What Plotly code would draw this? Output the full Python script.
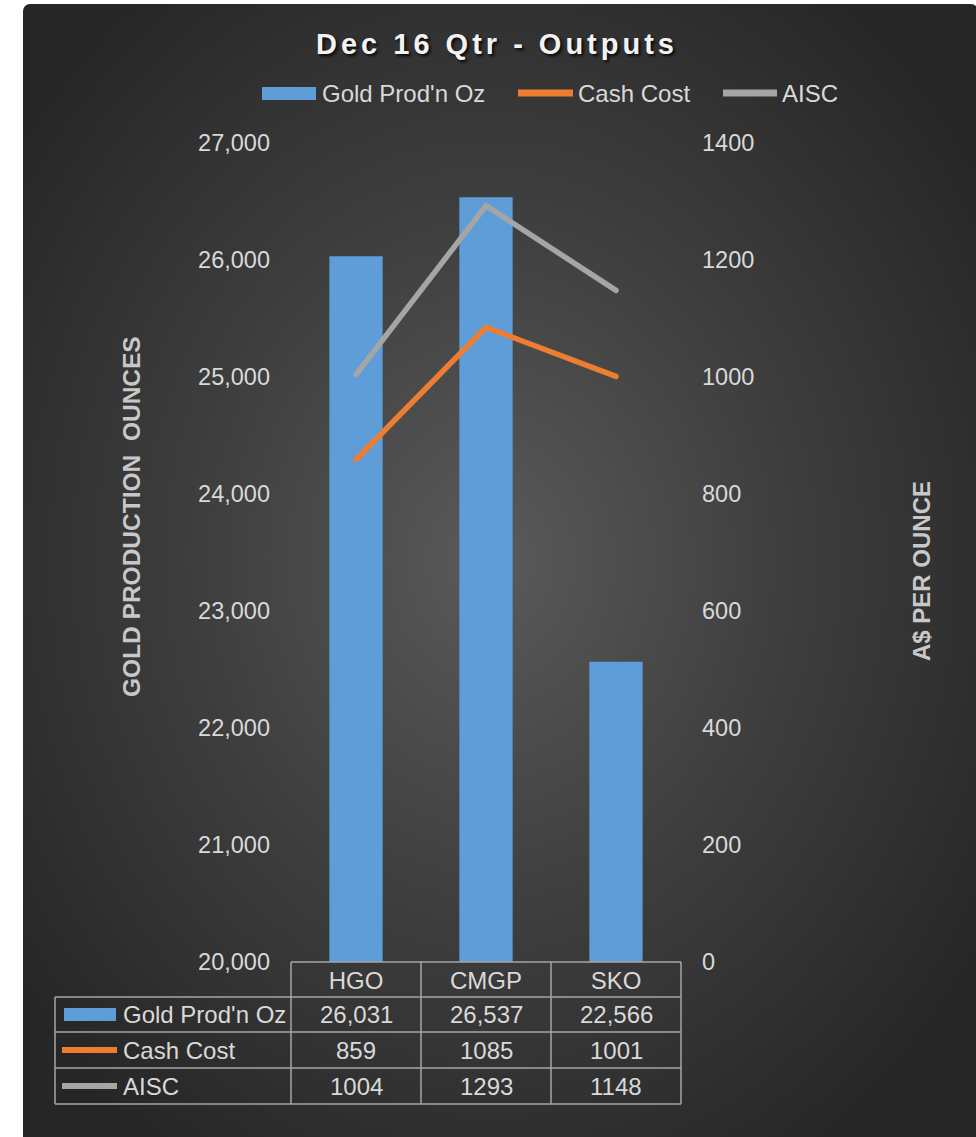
import base64
import plotly.graph_objects as go

# ---------------- data ----------------
categories = ["HGO", "CMGP", "SKO"]
gold_oz = [26031, 26537, 22566]
cash_cost = [859, 1085, 1001]
aisc = [1004, 1293, 1148]
left_ticks = [20000, 21000, 22000, 23000, 24000, 25000, 26000, 27000]
right_ticks = [0, 200, 400, 600, 800, 1000, 1200, 1400]
series_names = ["Gold Prod'n Oz", "Cash Cost", "AISC"]
title_text = "Dec 16 Qtr - Outputs"
left_title = "GOLD PRODUCTION  OUNCES"
right_title = "A$ PER OUNCE"

# ---------------- styling ----------------
W, H = 976, 1137
L, R, T, B = 291, 681, 143, 962  # plot area in pixels
BLUE = "#5e9dd7"
ORANGE = "#ed7d31"
GRAY = "#a5a5a5"
TXT = "#d9d9d9"
GRID = "#a6a6a6"
FONT = "Liberation Sans, Arial, sans-serif"
PANEL = (23, 4, 978, 1150)  # x0, y0, x1, y1 of dark panel


def fx(px):
    return (px - L) / (R - L)


def fy(py):
    return (B - py) / (B - T)


fig = go.Figure()
fig.add_trace(go.Bar(x=categories, y=gold_oz, name=series_names[0],
                     marker=dict(color=BLUE, line=dict(width=0)), yaxis="y",
                     showlegend=False))
fig.add_trace(go.Scatter(x=categories, y=cash_cost, name=series_names[1], mode="lines",
                         line=dict(color=ORANGE, width=5.5), yaxis="y2", showlegend=False))
fig.add_trace(go.Scatter(x=categories, y=aisc, name=series_names[2], mode="lines",
                         line=dict(color=GRAY, width=5.5), yaxis="y2", showlegend=False))

# background (radial gradient panel)
pw, ph = PANEL[2] - PANEL[0], PANEL[3] - PANEL[1]
svg = (
    f'<svg xmlns="http://www.w3.org/2000/svg" width="{pw}" height="{ph}" viewBox="0 0 {pw} {ph}" '
    'preserveAspectRatio="none"><defs><radialGradient id="g" cx="0.49" cy="0.485" r="0.62">'
    '<stop offset="0" stop-color="#5a5a5a"/><stop offset="0.5" stop-color="#3e3e3e"/>'
    '<stop offset="1" stop-color="#262626"/></radialGradient></defs>'
    f'<rect width="{pw}" height="{ph}" rx="7" fill="url(#g)"/></svg>'
)
src = "data:image/svg+xml;base64," + base64.b64encode(svg.encode()).decode()

shapes = []
annotations = []


def hline(x0, x1, y, color=GRID, width=1.5):
    shapes.append(dict(type="line", xref="paper", yref="paper", x0=fx(x0), x1=fx(x1),
                       y0=fy(y), y1=fy(y), line=dict(color=color, width=width)))


def vline(x, y0, y1, color=GRID, width=1.5):
    shapes.append(dict(type="line", xref="paper", yref="paper", x0=fx(x), x1=fx(x),
                       y0=fy(y0), y1=fy(y1), line=dict(color=color, width=width)))


def text(px, py, s, size=24, color=TXT, xanchor="center", bold=False, angle=0, shadow=None):
    f = dict(family=FONT, size=size, color=color)
    if bold:
        f["weight"] = "bold"
    if shadow:
        f["shadow"] = shadow
    annotations.append(dict(xref="paper", yref="paper", x=fx(px), y=fy(py), text=s,
                            showarrow=False, xanchor=xanchor, yanchor="middle",
                            font=f, textangle=angle))


# ---------- table ----------
col_edges = [291, 421, 551, 681]
row_edges = [997, 1032, 1068, 1104]
hline(291, 681, 962)
for y in row_edges:
    hline(55, 681, y)
for x in col_edges:
    vline(x, 962, 1104)
vline(55, 997, 1104)

row_centers = [1014.5, 1050, 1086]
col_centers = [(col_edges[i] + col_edges[i + 1]) / 2 for i in range(3)]

table_rows = [
    [f"{v:,}" for v in gold_oz],
    [f"{v}" for v in cash_cost],
    [f"{v}" for v in aisc],
]
for r, vals in enumerate(table_rows):
    for c, s in enumerate(vals):
        text(col_centers[c], row_centers[r], s)
    text(121, row_centers[r], series_names[r], xanchor="left")

# table legend keys
shapes.append(dict(type="rect", xref="paper", yref="paper", x0=fx(64), x1=fx(116),
                   y0=fy(1021), y1=fy(1008), fillcolor=BLUE, line=dict(width=0)))
hline(62, 117, 1050, ORANGE, 6)
hline(62, 117, 1086, GRAY, 6)

# ---------- top legend ----------
shapes.append(dict(type="rect", xref="paper", yref="paper", x0=fx(262), x1=fx(316),
                   y0=fy(100), y1=fy(87), fillcolor=BLUE, line=dict(width=0)))
hline(518, 573, 93, ORANGE, 7)
hline(723, 777, 93, GRAY, 7)
text(320, 93, series_names[0], xanchor="left")
text(576, 93, series_names[1], xanchor="left")
text(780, 93, series_names[2], xanchor="left")

# ---------- titles ----------
text(497, 44, title_text, size=29, color="#f2f2f2", bold=True,
     shadow="2px 2px 3px rgba(0,0,0,0.85)")
text(131, 517, left_title, size=24.5, color="#c8c8c8", bold=True, angle=-90)
text(921, 571, right_title, size=24, color="#c8c8c8", bold=True, angle=-90)

fig.update_layout(
    width=W, height=H,
    margin=dict(l=L, r=W - R, t=T, b=H - B, autoexpand=False, pad=0),
    paper_bgcolor="white",
    plot_bgcolor="rgba(0,0,0,0)",
    bargap=0.59,
    font=dict(family=FONT, color=TXT, size=24),
    xaxis=dict(type="category", showgrid=False, zeroline=False, showline=False,
               ticks="", tickfont=dict(size=24, color=TXT, family=FONT),
               ticklabelstandoff=2, fixedrange=True),
    yaxis=dict(range=[20000, 27000], tickvals=left_ticks, tickformat=",",
               showgrid=False, zeroline=False, showline=False, ticks="",
               tickfont=dict(size=23.5, color=TXT, family=FONT), ticklabelstandoff=20),
    yaxis2=dict(range=[0, 1400], tickvals=right_ticks, overlaying="y", side="right",
                showgrid=False, zeroline=False, showline=False, ticks="",
                tickfont=dict(size=23.5, color=TXT, family=FONT), ticklabelstandoff=20),
    shapes=shapes,
    annotations=annotations,
    images=[dict(source=src, xref="paper", yref="paper", x=fx(PANEL[0]), y=fy(PANEL[1]),
                 sizex=pw / (R - L), sizey=ph / (B - T),
                 xanchor="left", yanchor="top", sizing="stretch", layer="below")],
)

post = """
document.documentElement.style.margin = '0';
document.body.style.margin = '0';
document.body.style.padding = '0';
document.body.style.overflow = 'hidden';
var gd = document.getElementById('{plot_id}');
function fixup(){
  gd.querySelectorAll('text').forEach(function(t){
    if (t.textContent === 'Dec 16 Qtr - Outputs') { t.style.letterSpacing = '4px'; }
  });
  gd.querySelectorAll('.scatterlayer .js-line').forEach(function(p){
    p.style.strokeLinecap = 'round'; p.style.strokeLinejoin = 'round';
  });
}
fixup();
if (gd.on) { gd.on('plotly_afterplot', fixup); }
"""

fig.write_html("out.html", config={"displayModeBar": False}, post_script=post)
